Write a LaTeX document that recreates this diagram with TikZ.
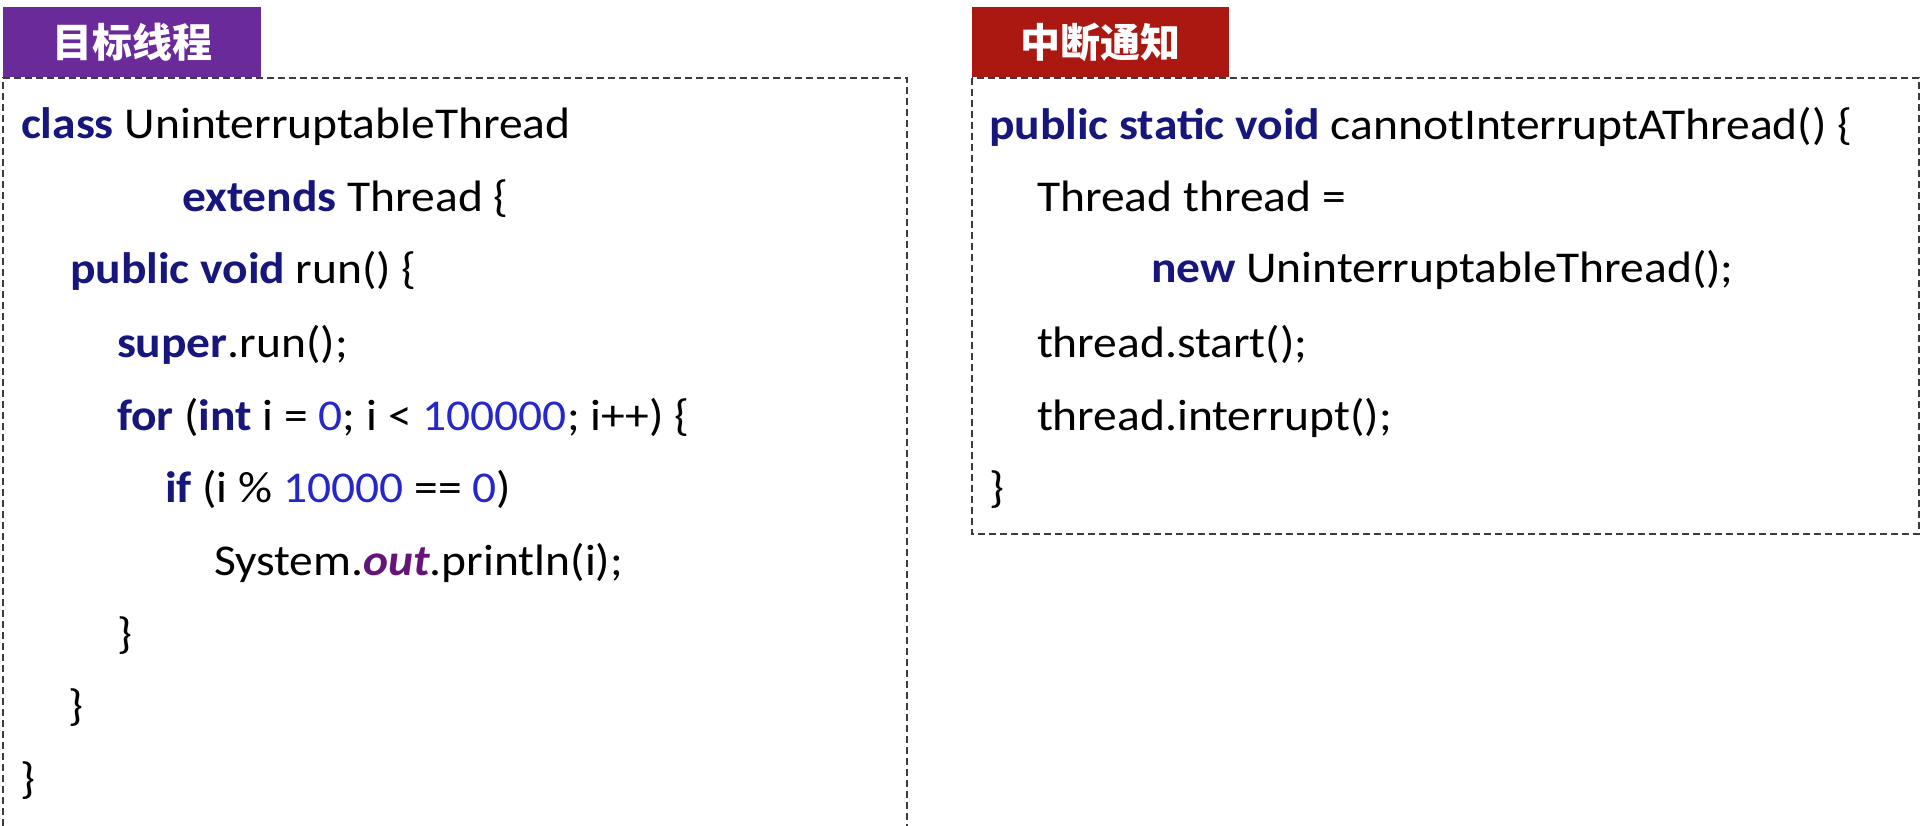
\documentclass[tikz,border=0pt]{standalone}
\usepackage{fontspec}
\setmainfont{Carlito}[FakeStretch=1.08]
\newfontfamily\cjk{Noto Sans CJK SC}
\definecolor{kwcol}{RGB}{22,22,125}
\definecolor{numcol}{RGB}{38,38,205}
\definecolor{outcol}{RGB}{102,20,122}
\definecolor{tabpurple}{RGB}{106,42,154}
\definecolor{tabred}{RGB}{171,24,18}
\definecolor{dashcol}{RGB}{60,60,60}
\newcommand{\kw}[1]{\textcolor{kwcol}{\bfseries #1}}
\newcommand{\nm}[1]{\textcolor{numcol}{#1}}
\newcommand{\outf}[1]{\textcolor{outcol}{\bfseries\itshape #1}}
\begin{document}
\begin{tikzpicture}[x=1pt,y=-1pt,
  code/.style={anchor=base west,inner sep=0pt,outer sep=0pt,font=\fontsize{44}{52}\selectfont,text=black},
  tabbox/.style={inner sep=0pt,outer sep=0pt,minimum width=258pt,minimum height=70pt,text=white,font=\cjk\bfseries\fontsize{40}{44}\selectfont},
  dashbox/.style={draw=dashcol,line width=1.5pt,dash pattern=on 7pt off 4pt}]
\useasboundingbox (0,0) rectangle (1922,826);
\fill[white] (0,0) rectangle (1922,826);
% frames
\draw[dashbox] (3,826) -- (3,78) -- (907,78) -- (907,826);
\draw[dashbox] (972,78) rectangle (1919,534);
% tabs
\node[tabbox,fill=tabpurple] (tabL) at (132,42) {目标线程};
\node[tabbox,fill=tabred,minimum width=257pt] (tabR) at (1100.5,42) {中断通知};
% left code
\node[code] (l1) at (21,139) {\kw{class} UninterruptableThread};
\node[code] (l2) at (182,212) {\kw{extends} Thread \{};
\node[code] (l3) at (70,284) {\kw{public void} run() \{};
\node[code] (l4) at (117,357) {\kw{super}.run();};
\node[code] (l5) at (117,430) {\kw{for} (\kw{int} i = \nm{0}; i < \nm{100000}; i++) \{};
\node[code] (l6) at (165,502) {\kw{if} (i \% \nm{10000} == \nm{0})};
\node[code] (l7) at (214,575) {System.\outf{out}.println(i);};
\node[code] (l8) at (117,648) {\}};
\node[code] (l9) at (68,720) {\}};
\node[code] (l10) at (20,793) {\}};
% right code
\node[code] (r1) at (989,140) {\kw{public static void} cannotInterruptAThread() \{};
\node[code] (r2) at (1037,212) {Thread thread =};
\node[code] (r3) at (1151,283) {\kw{new} UninterruptableThread();};
\node[code] (r4) at (1037,357) {thread.start();};
\node[code] (r5) at (1037,430) {thread.interrupt();};
\node[code] (r6) at (989,502) {\}};
\end{tikzpicture}
\end{document}
